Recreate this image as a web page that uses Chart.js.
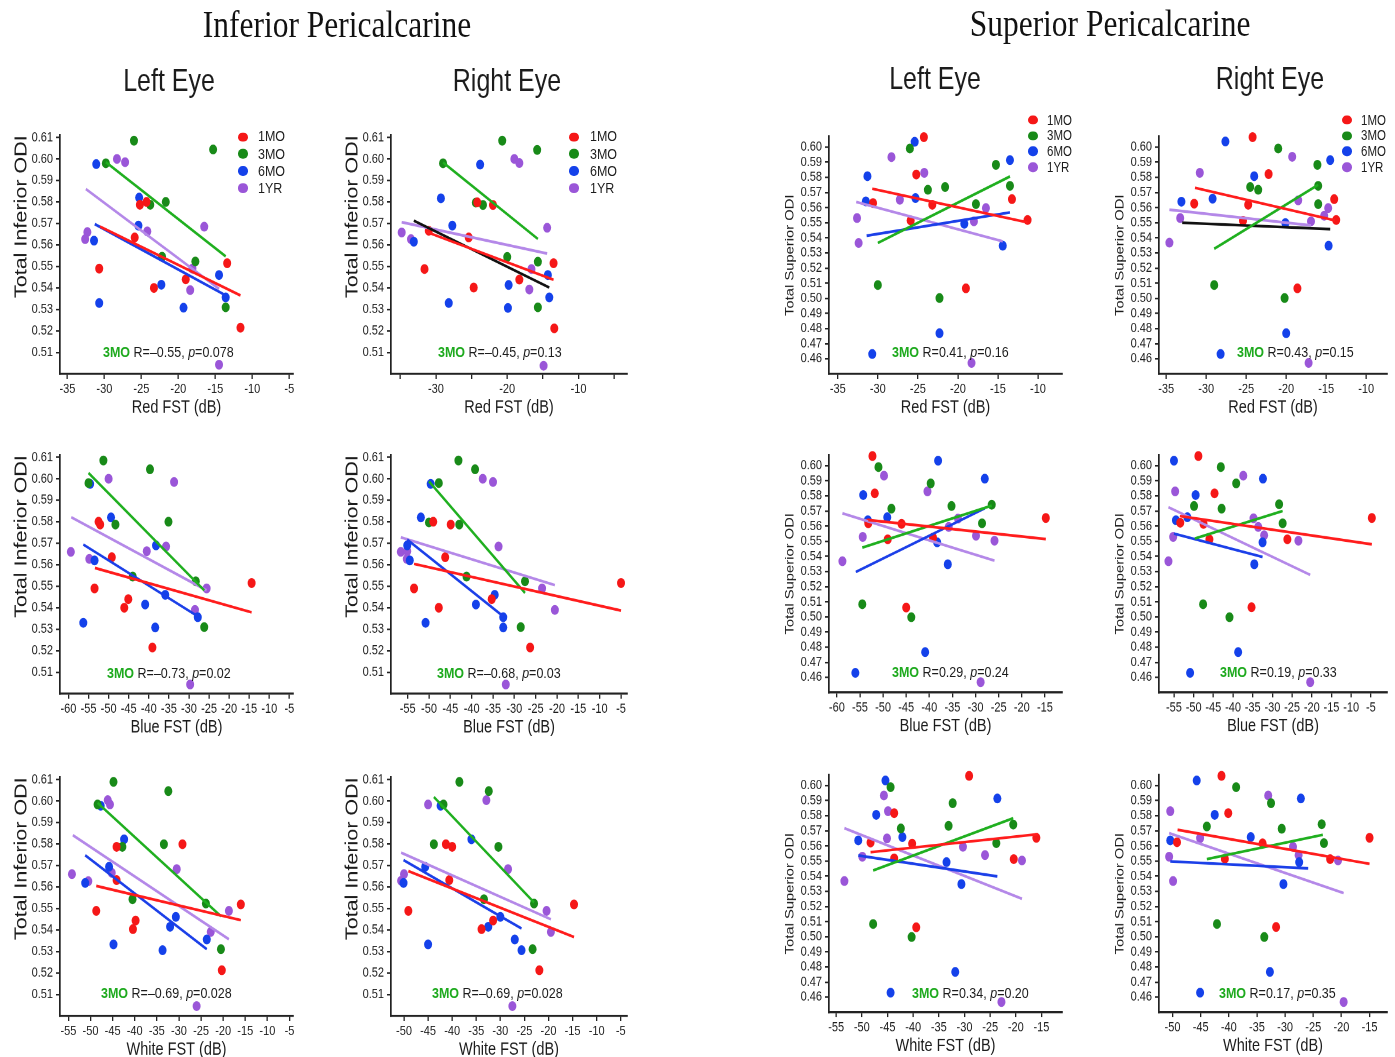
<!DOCTYPE html>
<html><head><meta charset="utf-8">
<script src="https://cdn.jsdelivr.net/npm/chart.js@4.4.1/dist/chart.umd.min.js"></script>
<style>
html,body{margin:0;padding:0;background:#fff;}
body{width:1395px;height:1057px;overflow:hidden;position:relative;}
#fig{position:absolute;left:0;top:0;width:1395px;height:860px;transform-origin:0 0;}
.abs{position:absolute;white-space:nowrap;}
.dot{position:absolute;border-radius:50%;}
</style></head>
<body><div id="fig"></div>
<script>
// ---------------- DATA ----------------
const SERIES = ['1MO', '3MO', '6MO', '1YR'];
const Y_TICKS_INF = [0.51, 0.52, 0.53, 0.54, 0.55, 0.56, 0.57, 0.58, 0.59, 0.60, 0.61];
const Y_TICKS_SUP = [0.46, 0.47, 0.48, 0.49, 0.50, 0.51, 0.52, 0.53, 0.54, 0.55, 0.56, 0.57, 0.58, 0.59, 0.60];
const Y_RANGE_INF = [0.50, 0.611];
const Y_RANGE_SUP = [0.45, 0.607];

// Inferior, Left eye, Red FST
const IL_R_1MO = [[-25.2,0.5787],[-24.3,0.580],[-25.9,0.5635],[-30.7,0.549],[-23.3,0.540],[-19.0,0.544],[-13.4,0.5515],[-11.6,0.5215]];
const IL_R_3MO = [[-26.0,0.6085],[-29.8,0.598],[-23.8,0.5787],[-21.7,0.580],[-22.2,0.5545],[-17.7,0.5523],[-15.3,0.6044],[-13.6,0.531]];
const IL_R_6MO = [[-31.1,0.5976],[-25.3,0.582],[-25.4,0.569],[-31.4,0.562],[-30.7,0.533],[-22.3,0.5415],[-19.3,0.5308],[-14.5,0.546],[-13.6,0.5356]];
const IL_R_1YR = [[-28.3,0.600],[-27.2,0.5985],[-32.3,0.566],[-32.6,0.5627],[-24.2,0.5663],[-16.5,0.5685],[-18.1,0.549],[-18.4,0.539],[-14.5,0.5043]];
const IL_R_FIT = [['1MO',-30.6,0.5686,-11.6,0.5365],['3MO',-29.8,0.5985,-13.6,0.5547],['6MO',-31.3,0.5697,-13.9,0.5371],['1YR',-32.5,0.586,-14.5,0.5396]];
const IL_R_XRANGE = [-36, -4.5];
const IL_R_XTICKS = [-35,-30,-25,-20,-15,-10,-5];
const IL_R_XLABELS = [-35,-30,-25,-20,-15,-10,-5];

// Inferior, Right eye, Red FST
const IR_R_1MO = [[-31.6,0.5488],[-31.0,0.5666],[-25.4,0.5635],[-24.2,0.5798],[-22.0,0.5786],[-24.7,0.5402],[-18.3,0.5439],[-13.5,0.5515],[-13.4,0.5212]];
const IR_R_3MO = [[-29.0,0.598],[-20.7,0.6085],[-15.8,0.6042],[-24.4,0.5797],[-23.4,0.5786],[-20.0,0.5544],[-15.7,0.5522],[-15.7,0.531]];
const IR_R_6MO = [[-23.8,0.5974],[-29.3,0.5817],[-27.7,0.569],[-33.1,0.5615],[-28.2,0.533],[-19.8,0.5414],[-19.9,0.5307],[-14.3,0.546],[-14.1,0.5356]];
const IR_R_1YR = [[-34.8,0.5658],[-33.5,0.5627],[-19.0,0.600],[-18.3,0.5981],[-14.4,0.568],[-16.6,0.5488],[-16.9,0.5393],[-14.9,0.5038]];
const IR_R_FIT = [['1MO',-31.5,0.5663,-13.5,0.5438],['3MO',-29.0,0.5984,-15.7,0.5628],['ALL',-33.1,0.5713,-14.1,0.5402],['1YR',-34.8,0.5706,-14.4,0.556]];
const IR_R_XRANGE = [-36.3, -3.2];
const IR_R_XTICKS = [-35,-30,-25,-20,-15,-10,-5];
const IR_R_XLABELS = [-30,-20,-10];

// Superior, Left eye, Red FST
const SL_R_1MO = [[-24.25,0.6066],[-25.2,0.5819],[-30.6,0.563],[-25.9,0.5515],[-23.2,0.5619],[-19.0,0.5066],[-13.25,0.5656],[-11.3,0.5518]];
const SL_R_3MO = [[-26.0,0.5991],[-23.75,0.5718],[-21.6,0.5736],[-17.75,0.5623],[-15.25,0.5883],[-13.5,0.5744],[-30.0,0.5088],[-22.3,0.5002]];
const SL_R_6MO = [[-25.4,0.6035],[-31.3,0.5808],[-31.5,0.5641],[-25.3,0.5663],[-19.2,0.5493],[-14.4,0.5348],[-13.5,0.5914],[-22.3,0.4769],[-30.7,0.4632]];
const SL_R_1YR = [[-28.3,0.5934],[-24.2,0.583],[-27.25,0.5652],[-32.6,0.5531],[-32.4,0.5366],[-18.0,0.5509],[-16.5,0.5597],[-18.3,0.4573]];
const SL_R_FIT = [['1MO',-30.7,0.5725,-11.3,0.5502],['3MO',-30.0,0.5366,-13.5,0.5806],['6MO',-31.4,0.5414,-13.5,0.5568],['1YR',-32.7,0.5637,-14.4,0.5377]];
const SL_R_XRANGE = [-36.1, -7];
const SL_R_XTICKS = [-35,-30,-25,-20,-15,-10];
const SL_R_XLABELS = [-35,-30,-25,-20,-15,-10];

// Superior, Right eye, Red FST
const SR_R_1MO = [[-24.2,0.6066],[-22.2,0.5822],[-31.5,0.5626],[-24.75,0.5619],[-25.4,0.5513],[-18.6,0.5066],[-14.0,0.5656],[-13.75,0.5518]];
const SR_R_3MO = [[-21.0,0.5991],[-24.5,0.5736],[-23.5,0.5718],[-16.1,0.5883],[-16.0,0.5744],[-16.0,0.5623],[-29.0,0.5088],[-20.2,0.5002]];
const SR_R_6MO = [[-27.6,0.6037],[-24.0,0.5808],[-33.1,0.5639],[-29.2,0.5659],[-20.1,0.5498],[-14.5,0.5914],[-14.7,0.5348],[-20.0,0.4769],[-28.2,0.4632]];
const SR_R_1YR = [[-19.25,0.5936],[-30.8,0.583],[-18.5,0.5648],[-33.25,0.5531],[-34.6,0.5368],[-16.9,0.5509],[-15.25,0.5546],[-14.75,0.5597],[-17.2,0.4573]];
const SR_R_FIT = [['1MO',-31.4,0.5731,-13.9,0.5515],['3MO',-29.0,0.5328,-16.0,0.5751],['ALL',-33.0,0.55,-14.5,0.5458],['1YR',-34.6,0.5586,-16.9,0.5482]];
const SR_R_XRANGE = [-35.9, -7.4];
const SR_R_XTICKS = [-35,-30,-25,-20,-15,-10];
const SR_R_XLABELS = [-35,-30,-25,-20,-15,-10];

// Inferior, Left eye, Blue FST
const IL_B_1MO = [[-52.5,0.580],[-52.1,0.5787],[-49.2,0.5635],[-53.5,0.549],[-46.1,0.540],[-45.1,0.544],[-39.1,0.5215],[-14.4,0.5515]];
const IL_B_3MO = [[-51.3,0.6085],[-55.0,0.598],[-48.3,0.5787],[-39.7,0.6044],[-35.1,0.580],[-44.0,0.5545],[-28.3,0.5523],[-26.2,0.531]];
const IL_B_6MO = [[-54.6,0.5976],[-49.4,0.582],[-38.2,0.569],[-53.5,0.562],[-56.3,0.533],[-40.9,0.5415],[-38.4,0.5308],[-35.9,0.546],[-27.8,0.5356]];
const IL_B_1YR = [[-50.0,0.600],[-33.7,0.5985],[-59.4,0.566],[-54.8,0.5627],[-40.5,0.5663],[-35.7,0.5685],[-25.6,0.549],[-28.5,0.539],[-29.7,0.5043]];
const IL_B_FIT = [['1MO',-53.4,0.5585,-14.4,0.5379],['3MO',-55.0,0.6027,-26.2,0.5481],['6MO',-56.3,0.5694,-27.8,0.536],['1YR',-59.3,0.5821,-25.6,0.5481]];
const IL_B_XRANGE = [-62.1, -4.1];
const IL_B_XTICKS = [-60,-55,-50,-45,-40,-35,-30,-25,-20,-15,-10,-5];
const IL_B_XLABELS = [-60,-55,-50,-45,-40,-35,-30,-25,-20,-15,-10,-5];

// Inferior, Right eye, Blue FST
const IR_B_1MO = [[-49.0,0.580],[-44.9,0.5787],[-46.2,0.5635],[-53.5,0.549],[-47.7,0.540],[-35.3,0.544],[-26.3,0.5215],[-5.0,0.5515]];
const IR_B_3MO = [[-43.1,0.6085],[-47.7,0.598],[-50.0,0.5797],[-42.9,0.5787],[-39.2,0.6044],[-41.2,0.5545],[-27.5,0.5523],[-28.5,0.531]];
const IR_B_6MO = [[-49.6,0.5976],[-51.9,0.582],[-55.1,0.569],[-54.5,0.562],[-50.8,0.533],[-39.0,0.5415],[-32.6,0.5308],[-34.6,0.546],[-32.6,0.5356]];
const IR_B_1YR = [[-37.4,0.600],[-35.0,0.5985],[-56.6,0.566],[-55.1,0.5663],[-55.2,0.5627],[-33.7,0.5685],[-23.5,0.549],[-20.5,0.539],[-32.0,0.5043]];
const IR_B_FIT = [['1MO',-53.5,0.5604,-5.0,0.5387],['3MO',-50.0,0.5988,-27.5,0.5469],['6MO',-55.1,0.5717,-32.6,0.536],['1YR',-56.6,0.5728,-20.5,0.5505]];
const IR_B_XRANGE = [-58.9, -3.6];
const IR_B_XTICKS = [-55,-50,-45,-40,-35,-30,-25,-20,-15,-10,-5];
const IR_B_XLABELS = [-55,-50,-45,-40,-35,-30,-25,-20,-15,-10,-5];

// Superior, Left eye, Blue FST
const SL_B_1MO = [[-52.3,0.6064],[-51.8,0.5817],[-53.2,0.5619],[-49.0,0.5513],[-46.0,0.5615],[-45.0,0.5062],[-39.2,0.5524],[-14.8,0.5654]];
const SL_B_3MO = [[-51.0,0.5991],[-48.2,0.5716],[-39.7,0.5883],[-35.2,0.5733],[-28.6,0.5619],[-26.5,0.5742],[-54.5,0.5084],[-43.9,0.4998]];
const SL_B_6MO = [[-38.1,0.6033],[-54.3,0.5806],[-53.3,0.5639],[-49.1,0.5659],[-38.3,0.5493],[-36.0,0.5348],[-28.0,0.5914],[-40.9,0.4767],[-56.0,0.463]];
const SL_B_1YR = [[-49.8,0.5934],[-40.4,0.583],[-33.8,0.565],[-35.8,0.5595],[-54.4,0.5529],[-58.8,0.5368],[-29.9,0.5537],[-25.9,0.5504],[-28.9,0.4568]];
const SL_B_FIT = [['1MO',-53.2,0.5641,-14.8,0.5515],['3MO',-54.5,0.5458,-26.5,0.5736],['6MO',-55.9,0.5297,-28.0,0.5718],['1YR',-58.8,0.5685,-25.9,0.5372]];
const SL_B_XRANGE = [-61.7, -11.3];
const SL_B_XTICKS = [-60,-55,-50,-45,-40,-35,-30,-25,-20,-15];
const SL_B_XLABELS = [-60,-55,-50,-45,-40,-35,-30,-25,-20,-15];

// Superior, Right eye, Blue FST
const SR_B_1MO = [[-48.8,0.6064],[-44.7,0.5817],[-53.4,0.5623],[-47.5,0.5615],[-46.0,0.5513],[-35.3,0.5064],[-26.2,0.5513],[-4.75,0.5654]];
const SR_B_3MO = [[-43.1,0.5991],[-49.9,0.5733],[-42.9,0.5716],[-39.2,0.5883],[-28.3,0.5745],[-27.4,0.5619],[-47.6,0.5084],[-40.9,0.4998]];
const SR_B_6MO = [[-55.0,0.6033],[-49.5,0.5806],[-54.5,0.5639],[-51.6,0.5659],[-32.5,0.5493],[-34.6,0.5348],[-32.4,0.5914],[-38.7,0.4767],[-50.9,0.463]];
const SR_B_1YR = [[-37.4,0.5934],[-54.7,0.583],[-34.8,0.5652],[-33.6,0.5595],[-32.1,0.554],[-55.2,0.5529],[-56.4,0.5368],[-23.4,0.5504],[-20.4,0.4568]];
const SR_B_FIT = [['1MO',-53.5,0.5667,-4.75,0.548],['3MO',-49.7,0.5518,-27.4,0.57],['6MO',-55.0,0.5551,-32.5,0.5396],['1YR',-56.4,0.5725,-20.4,0.5278]];
const SR_B_XRANGE = [-58.8, -0.9];
const SR_B_XTICKS = [-55,-50,-45,-40,-35,-30,-25,-20,-15,-10,-5];
const SR_B_XLABELS = [-55,-50,-45,-40,-35,-30,-25,-20,-15,-10,-5];

// Inferior, Left eye, White FST
const IL_W_1MO = [[-44.1,0.5787],[-29.2,0.5799],[-44.1,0.5632],[-48.7,0.5489],[-40.4,0.5404],[-39.8,0.5444],[-20.3,0.5213],[-16.0,0.5519]];
const IL_W_3MO = [[-44.8,0.6089],[-48.4,0.5984],[-42.8,0.5787],[-32.4,0.6046],[-33.4,0.5799],[-40.5,0.5543],[-23.9,0.5523],[-20.5,0.5311]];
const IL_W_6MO = [[-47.7,0.5978],[-42.4,0.5822],[-45.8,0.5694],[-51.2,0.5619],[-44.8,0.5333],[-32.0,0.5415],[-30.7,0.5461],[-33.7,0.5306],[-23.7,0.5356]];
const IL_W_1YR = [[-46.1,0.6004],[-45.6,0.5984],[-54.2,0.566],[-50.5,0.5627],[-45.2,0.5666],[-30.5,0.5683],[-18.7,0.5489],[-22.8,0.5391],[-26.0,0.5046]];
const IL_W_FIT = [['1MO',-48.7,0.5605,-16.0,0.5446],['3MO',-48.4,0.5991,-20.5,0.5464],['6MO',-51.2,0.5748,-23.7,0.5311],['1YR',-54.0,0.5841,-18.7,0.5357]];
const IL_W_XRANGE = [-56.9, -4.2];
const IL_W_XTICKS = [-55,-50,-45,-40,-35,-30,-25,-20,-15,-10,-5];
const IL_W_XLABELS = [-55,-50,-45,-40,-35,-30,-25,-20,-15,-10,-5];

// Inferior, Right eye, White FST
const IR_W_1MO = [[-41.3,0.5799],[-40.0,0.5787],[-40.6,0.5632],[-49.1,0.5489],[-33.9,0.5404],[-31.5,0.5444],[-21.9,0.5213],[-14.7,0.5519]];
const IR_W_3MO = [[-38.5,0.6089],[-41.8,0.5984],[-43.8,0.5799],[-32.4,0.6046],[-30.4,0.5787],[-33.4,0.5543],[-23.0,0.5523],[-23.3,0.5311]];
const IR_W_6MO = [[-42.4,0.5978],[-36.0,0.5822],[-45.6,0.5694],[-50.1,0.5619],[-45.0,0.5333],[-32.5,0.5415],[-30.0,0.5461],[-25.6,0.5306],[-27.0,0.5356]];
const IR_W_1YR = [[-45.0,0.5984],[-32.9,0.6004],[-50.6,0.5629],[-50.0,0.566],[-28.4,0.5683],[-20.4,0.5489],[-19.5,0.5391],[-27.5,0.5046]];
const IR_W_FIT = [['1MO',-49.1,0.5674,-14.7,0.5367],['3MO',-43.8,0.6019,-23.0,0.5528],['6MO',-50.1,0.5725,-25.6,0.5407],['1YR',-50.6,0.576,-19.5,0.545]];
const IR_W_XRANGE = [-52.7, -3.7];
const IR_W_XTICKS = [-50,-45,-40,-35,-30,-25,-20,-15,-10,-5];
const IR_W_XLABELS = [-50,-45,-40,-35,-30,-25,-20,-15,-10,-5];

// Superior, Left eye, White FST
const SL_W_1MO = [[-29.1,0.6064],[-43.7,0.5817],[-48.3,0.5623],[-40.2,0.5615],[-43.7,0.5518],[-39.4,0.5062],[-20.4,0.5513],[-16.0,0.5654]];
const SL_W_3MO = [[-44.4,0.5989],[-42.4,0.5716],[-32.3,0.5883],[-33.1,0.5733],[-23.8,0.5619],[-20.5,0.5742],[-47.8,0.5084],[-40.3,0.4998]];
const SL_W_6MO = [[-45.4,0.6033],[-47.2,0.5806],[-50.7,0.5637],[-42.1,0.5659],[-33.5,0.5493],[-30.6,0.5348],[-23.6,0.5914],[-31.8,0.4767],[-44.4,0.463]];
const SL_W_1YR = [[-45.7,0.5934],[-44.9,0.583],[-45.1,0.565],[-30.3,0.5595],[-49.9,0.5529],[-53.4,0.5368],[-26.0,0.554],[-18.8,0.5504],[-22.8,0.4568]];
const SL_W_FIT = [['1MO',-48.3,0.5559,-15.7,0.5678],['3MO',-47.8,0.5438,-20.5,0.5784],['6MO',-50.7,0.5537,-23.6,0.5399],['1YR',-53.4,0.5718,-18.8,0.5251]];
const SL_W_XRANGE = [-56.4, -11];
const SL_W_XTICKS = [-55,-50,-45,-40,-35,-30,-25,-20,-15];
const SL_W_XLABELS = [-55,-50,-45,-40,-35,-30,-25,-20,-15];

// Superior, Right eye, White FST
const SR_W_1MO = [[-41.3,0.6064],[-40.1,0.5817],[-49.2,0.5625],[-34.0,0.5617],[-40.7,0.5515],[-31.6,0.5064],[-22.0,0.5513],[-15.0,0.5654]];
const SR_W_3MO = [[-38.7,0.5989],[-43.9,0.5729],[-30.6,0.5714],[-32.5,0.5883],[-23.5,0.5744],[-23.1,0.5619],[-42.1,0.5084],[-33.7,0.4998]];
const SR_W_6MO = [[-45.7,0.6033],[-42.5,0.5806],[-50.4,0.5637],[-36.1,0.5659],[-27.5,0.5493],[-30.3,0.5348],[-27.2,0.5914],[-32.7,0.4767],[-45.1,0.463]];
const SR_W_1YR = [[-33.0,0.5934],[-50.4,0.583],[-45.1,0.5652],[-28.6,0.5595],[-27.6,0.554],[-50.6,0.5529],[-49.9,0.5368],[-20.6,0.5504],[-19.6,0.4568]];
const SR_W_FIT = [['1MO',-49.1,0.5707,-15.0,0.5482],['3MO',-43.9,0.5513,-23.3,0.5674],['6MO',-50.4,0.5498,-25.9,0.5452],['1YR',-50.6,0.5685,-19.6,0.5289]];
const SR_W_XRANGE = [-52.4, -11.9];
const SR_W_XTICKS = [-50,-45,-40,-35,-30,-25,-20,-15];
const SR_W_XLABELS = [-50,-45,-40,-35,-30,-25,-20,-15];

// Annotations (panel order: IL_R, IR_R, SL_R, SR_R, IL_B, IR_B, SL_B, SR_B, IL_W, IR_W, SL_W, SR_W)
const ANNOT_R = ['–0.55', '–0.45', '0.41', '0.43', '–0.73', '–0.68', '0.29', '0.19', '–0.69', '–0.69', '0.34', '0.17'];
const ANNOT_P = ['0.078', '0.13', '0.16', '0.15', '0.02', '0.03', '0.24', '0.33', '0.028', '0.028', '0.20', '0.35'];

// ---------------- STYLE / LAYOUT ----------------
const S = 1.23;                       // vertical stretch of the figure
const FONT = '"Liberation Sans", Arial, Helvetica, sans-serif';
const SERIF = '"Liberation Serif", "Times New Roman", serif';
const TXT = '#1c1c1c';
const DOT_COLORS = {'1MO':'#f51717','3MO':'#188a18','6MO':'#1441ea','1YR':'#9a56d8'};
const LINE_COLORS = {'1MO':'#ff1c1c','3MO':'#1faf1f','6MO':'#1b3fe8','1YR':'#b488e8','ALL':'#111111'};

const fig = document.getElementById('fig');
fig.style.height = (1057 / S) + 'px';
fig.style.transform = 'scaleY(' + S + ')';

const COLS = {
  inf: [{axis: 60, right: 293}, {axis: 391, right: 627}],
  sup: [{axis: 829, right: 1062}, {axis: 1159, right: 1387}]
};
const ROWS = {
  inf: [[135.55, 374.2], [455.55, 694.2], [777.15, 1015.8]],
  sup: [[136.7, 374.4], [455.1, 692.8], [775.1, 1012.8]]
};
const ANNOT_POS = [[103,352],[438,352],[892,352],[1237,352],[107,673],[437,673],[892,672],[1220,672],[101,993],[432,993],[912,993],[1219,993]];

const PANELS = [
  {region:'inf', col:0, row:0, xTitle:'Red FST (dB)',   pts:[IL_R_1MO,IL_R_3MO,IL_R_6MO,IL_R_1YR], fit:IL_R_FIT, xr:IL_R_XRANGE, xt:IL_R_XTICKS, xl:IL_R_XLABELS, legend:[243,137,258,17,12.5]},
  {region:'inf', col:1, row:0, xTitle:'Red FST (dB)',   pts:[IR_R_1MO,IR_R_3MO,IR_R_6MO,IR_R_1YR], fit:IR_R_FIT, xr:IR_R_XRANGE, xt:IR_R_XTICKS, xl:IR_R_XLABELS, legend:[574,137,590,17,12.5]},
  {region:'sup', col:0, row:0, xTitle:'Red FST (dB)',   pts:[SL_R_1MO,SL_R_3MO,SL_R_6MO,SL_R_1YR], fit:SL_R_FIT, xr:SL_R_XRANGE, xt:SL_R_XTICKS, xl:SL_R_XLABELS, legend:[1033,120,1047,15.7,11.5]},
  {region:'sup', col:1, row:0, xTitle:'Red FST (dB)',   pts:[SR_R_1MO,SR_R_3MO,SR_R_6MO,SR_R_1YR], fit:SR_R_FIT, xr:SR_R_XRANGE, xt:SR_R_XTICKS, xl:SR_R_XLABELS, legend:[1347,120,1361,15.7,11.5]},
  {region:'inf', col:0, row:1, xTitle:'Blue FST (dB)',  pts:[IL_B_1MO,IL_B_3MO,IL_B_6MO,IL_B_1YR], fit:IL_B_FIT, xr:IL_B_XRANGE, xt:IL_B_XTICKS, xl:IL_B_XLABELS},
  {region:'inf', col:1, row:1, xTitle:'Blue FST (dB)',  pts:[IR_B_1MO,IR_B_3MO,IR_B_6MO,IR_B_1YR], fit:IR_B_FIT, xr:IR_B_XRANGE, xt:IR_B_XTICKS, xl:IR_B_XLABELS},
  {region:'sup', col:0, row:1, xTitle:'Blue FST (dB)',  pts:[SL_B_1MO,SL_B_3MO,SL_B_6MO,SL_B_1YR], fit:SL_B_FIT, xr:SL_B_XRANGE, xt:SL_B_XTICKS, xl:SL_B_XLABELS},
  {region:'sup', col:1, row:1, xTitle:'Blue FST (dB)',  pts:[SR_B_1MO,SR_B_3MO,SR_B_6MO,SR_B_1YR], fit:SR_B_FIT, xr:SR_B_XRANGE, xt:SR_B_XTICKS, xl:SR_B_XLABELS},
  {region:'inf', col:0, row:2, xTitle:'White FST (dB)', pts:[IL_W_1MO,IL_W_3MO,IL_W_6MO,IL_W_1YR], fit:IL_W_FIT, xr:IL_W_XRANGE, xt:IL_W_XTICKS, xl:IL_W_XLABELS},
  {region:'inf', col:1, row:2, xTitle:'White FST (dB)', pts:[IR_W_1MO,IR_W_3MO,IR_W_6MO,IR_W_1YR], fit:IR_W_FIT, xr:IR_W_XRANGE, xt:IR_W_XTICKS, xl:IR_W_XLABELS},
  {region:'sup', col:0, row:2, xTitle:'White FST (dB)', pts:[SL_W_1MO,SL_W_3MO,SL_W_6MO,SL_W_1YR], fit:SL_W_FIT, xr:SL_W_XRANGE, xt:SL_W_XTICKS, xl:SL_W_XLABELS},
  {region:'sup', col:1, row:2, xTitle:'White FST (dB)', pts:[SR_W_1MO,SR_W_3MO,SR_W_6MO,SR_W_1YR], fit:SR_W_FIT, xr:SR_W_XRANGE, xt:SR_W_XTICKS, xl:SR_W_XLABELS}
];

function addText(html, o) {
  const d = document.createElement('div');
  d.className = 'abs';
  d.innerHTML = html;
  const lh = Math.round(o.size * 1.25);
  d.style.font = (o.weight || 'normal') + ' ' + o.size + 'px ' + o.family;
  d.style.lineHeight = lh + 'px';
  d.style.height = lh + 'px';
  d.style.top = (o.cy / S - lh / 2) + 'px';
  if (o.cx !== undefined) {
    d.style.left = (o.cx - 400) + 'px'; d.style.width = '800px'; d.style.textAlign = 'center';
  } else {
    d.style.left = o.x + 'px';
  }
  d.style.color = o.color || TXT;
  fig.appendChild(d);
  return d;
}

// Titles
addText('Inferior Pericalcarine', {cx:337, cy:24, size:31.5, family:SERIF, color:'#111'});
addText('Superior Pericalcarine', {cx:1110, cy:22.5, size:31.5, family:SERIF, color:'#111'});
addText('Left Eye',  {cx:169, cy:81, size:25, family:FONT});
addText('Right Eye', {cx:507, cy:81, size:25, family:FONT});
addText('Left Eye',  {cx:935, cy:78.5, size:25, family:FONT});
addText('Right Eye', {cx:1270, cy:78.5, size:25, family:FONT});

function makePanel(p, idx) {
  const isInf = p.region === 'inf';
  const col = COLS[p.region][p.col];
  const rs = ROWS[p.region][p.row];
  const YW = isInf ? 49 : 46;
  const PT = 9, PR = 12, XH = 36;
  const plotW = col.right - col.axis;
  const plotH = (rs[1] - rs[0]) / S;
  const W = Math.round(YW + plotW + PR);
  const H = Math.round(PT + plotH + XH);
  const wrap = document.createElement('div');
  wrap.className = 'abs';
  wrap.style.left = (col.axis - YW) + 'px';
  wrap.style.top = (rs[0] / S - PT) + 'px';
  wrap.style.width = W + 'px';
  wrap.style.height = H + 'px';
  const cv = document.createElement('canvas');
  cv.width = W; cv.height = H;
  cv.style.width = W + 'px'; cv.style.height = H + 'px';
  wrap.appendChild(cv);
  fig.appendChild(wrap);

  const yTicks = isInf ? Y_TICKS_INF : Y_TICKS_SUP;
  const yRange = isInf ? Y_RANGE_INF : Y_RANGE_SUP;
  const datasets = [];
  p.fit.forEach(f => {
    datasets.push({
      data: [{x: f[1], y: f[2]}, {x: f[3], y: f[4]}],
      showLine: true, borderColor: LINE_COLORS[f[0]], borderWidth: 2.2,
      pointRadius: 0, pointHoverRadius: 0, fill: false, order: 0, clip: false
    });
  });
  SERIES.forEach((s, i) => {
    datasets.push({
      label: s,
      data: p.pts[i].map(([x, y]) => ({x, y})),
      backgroundColor: DOT_COLORS[s], borderWidth: 0,
      pointRadius: 4.0, pointHoverRadius: 4.0, order: 1, clip: false
    });
  });
  const gridOpts = {display: true, drawOnChartArea: false, drawTicks: true, tickLength: 4, color: '#222', lineWidth: 1.3};
  const borderOpts = {display: true, color: '#222', width: 1.7};
  new Chart(cv, {
    type: 'scatter',
    data: {datasets},
    options: {
      responsive: false, animation: false, devicePixelRatio: 2,
      layout: {padding: {top: PT, right: PR, left: 0, bottom: 0}},
      plugins: {legend: {display: false}, tooltip: {enabled: false}},
      scales: {
        x: {
          type: 'linear', min: p.xr[0], max: p.xr[1],
          afterBuildTicks: sc => { sc.ticks = p.xt.map(v => ({value: v})); },
          afterFit: sc => { sc.height = XH; sc.paddingLeft = 0; sc.paddingRight = 0; },
          ticks: {autoSkip: false, maxRotation: 0, minRotation: 0, padding: 2, color: TXT,
                  font: {family: FONT, size: 11},
                  callback: v => p.xl.includes(v) ? String(v) : ''},
          grid: gridOpts, border: borderOpts,
          title: {display: true, text: p.xTitle, color: TXT, font: {family: FONT, size: 14.5}, padding: {top: 0, bottom: 0}}
        },
        y: {
          type: 'linear', min: yRange[0], max: yRange[1],
          afterBuildTicks: sc => { sc.ticks = yTicks.map(v => ({value: v})); },
          afterFit: sc => { sc.width = YW; sc.paddingTop = 0; sc.paddingBottom = 0; },
          ticks: {autoSkip: false, padding: 3, color: TXT, font: {family: FONT, size: 11}, callback: v => Number(v).toFixed(2)},
          grid: gridOpts, border: borderOpts,
          title: {display: true, text: isInf ? 'Total Inferior ODI' : 'Total Superior ODI', color: TXT,
                  align: isInf ? 'end' : 'center',
                  font: {family: FONT, size: isInf ? 17.5 : 12}, padding: {top: 0, bottom: 0}}
        }
      }
    }
  });

  // Legend
  if (p.legend) {
    const [dx, dy, tx, step, fs] = p.legend;
    SERIES.forEach((s, i) => {
      const cy = dy + i * step;
      const d = document.createElement('div');
      d.className = 'dot';
      const r = 4.6;
      d.style.left = (dx - r) + 'px';
      d.style.top = (cy / S - r / S) + 'px';
      d.style.width = (2 * r) + 'px';
      d.style.height = (2 * r / S) + 'px';
      d.style.background = DOT_COLORS[s];
      fig.appendChild(d);
      addText(s, {x: tx, cy: cy, size: fs, family: FONT});
    });
  }
  // Annotation
  const [ax, ay] = ANNOT_POS[idx];
  addText('<span style="color:#1faa1f;font-weight:bold">3MO</span> R=' + ANNOT_R[idx] + ', <i>p</i>=' + ANNOT_P[idx],
          {x: ax, cy: ay, size: 12.5, family: FONT});
}

PANELS.forEach(makePanel);
</script>
</body></html>
